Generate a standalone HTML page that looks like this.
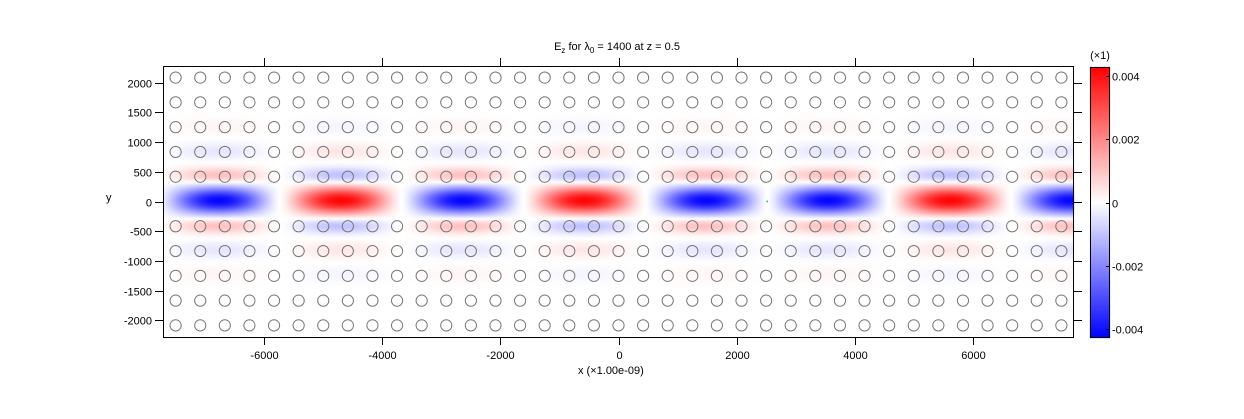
<!DOCTYPE html>
<html><head><meta charset="utf-8"><style>
body{margin:0;background:#fff;width:1244px;height:419px;overflow:hidden;position:relative;font-family:"Liberation Sans",sans-serif}
canvas{position:absolute;left:0;top:0}
svg{position:absolute;left:0;top:0}
text{font-family:"Liberation Sans",sans-serif;font-size:11px;fill:#000}
</style></head><body>
<canvas id="field" width="1244" height="419"></canvas>
<svg id="chart" width="1244" height="419"></svg>
<script>
// data
const xTicks=[-6000,-4000,-2000,0,2000,4000,6000];
const yTicks=[-2000,-1500,-1000,-500,0,500,1000,1500,2000];
const cbTicks=[-0.004,-0.002,0,0.002,0.004];
const cbLabels=["-0.004","-0.002","0","0.002","0.004"];
const holeCols=[-18,-17,-16,-15,-14,-13,-12,-11,-10,-9,-8,-7,-6,-5,-4,-3,-2,-1,0,1,2,3,4,5,6,7,8,9,10,11,12,13,14,15,16,17,18];
const holeRows=[-5,-4,-3,-2,-1,1,2,3,4,5];
const latticeA=417;
const sourceX=2520;
const halfPeriod=2065;
const fieldMax=0.0043;
const yLobes=[1,-0.28,0.1,-0.04];
const xDom=[-7720,7720], yDom=[-2280,2280];
const L=163,R=1074,T=66,B=337;
const sx=v=>L+(v-xDom[0])/(xDom[1]-xDom[0])*(R-L);
const sy=v=>B-(v-yDom[0])/(yDom[1]-yDom[0])*(B-T);
const cbT=67,cbB=338,cbL=1090,cbR=1110;
const cy=v=>cbB-(v+fieldMax)/(2*fieldMax)*(cbB-cbT);
function cmap(t){
  t=Math.max(-1,Math.min(1,t));
  if(t>=0){const w=Math.round(255*(1-t));return [255,w,w];}
  const w=Math.round(255*(1+t));return [w,w,255];
}
const cv=document.getElementById('field'),ctx=cv.getContext('2d');
const img=ctx.createImageData(R-L,B-T);
const pxPerUnit=(R-L)/(xDom[1]-xDom[0]);
for(let j=0;j<B-T;j++){
  const yu=yDom[1]-(j+0.5)/pxPerUnit;
  const ay=Math.abs(yu);
  let prof=yLobes[0]*Math.exp(-Math.pow(yu/230,2));
  for(let k=1;k<yLobes.length;k++)prof+=yLobes[k]*Math.exp(-Math.pow((ay-k*latticeA)/140,2));
  for(let i=0;i<R-L;i++){
    const xu=xDom[0]+(i+0.5)/pxPerUnit;
    const ph=Math.PI*Math.abs(xu-sourceX)/halfPeriod;
    let s=Math.sin(ph); s=Math.sign(s)*Math.pow(Math.abs(s),1.3);
    let v=-s*prof*0.98;
    const c=cmap(v),o=(j*(R-L)+i)*4;
    img.data[o]=c[0];img.data[o+1]=c[1];img.data[o+2]=c[2];img.data[o+3]=255;
  }
}
ctx.putImageData(img,L,T);
for(let y=cbT;y<cbB;y++){
  const v=fieldMax-(y-cbT+0.5)/(cbB-cbT)*2*fieldMax;
  const c=cmap(v/fieldMax);ctx.fillStyle=`rgb(${c[0]},${c[1]},${c[2]})`;ctx.fillRect(cbL,y,cbR-cbL,1);
}
const svg=document.getElementById('chart'),NS='http://www.w3.org/2000/svg';
function mk(tag,attrs,txt){const e=document.createElementNS(NS,tag);for(const k in attrs)e.setAttribute(k,attrs[k]);if(txt!==undefined)e.textContent=txt;svg.appendChild(e);return e;}
holeRows.forEach(r=>holeCols.forEach(c=>{
  const e=mk('circle',{cx:sx(c*latticeA),cy:sy(r*latticeA),r:5.6,fill:'none',stroke:'#777','stroke-width':1});
  
  
}));
let e=mk('circle',{cx:sx(sourceX),cy:sy(0),r:1,fill:'#3c3'});


e=mk('rect',{x:L+0.5,y:T+0.5,width:R-L-1,height:B-T,fill:'none',stroke:'#000'});


xTicks.forEach(v=>{
  const x=Math.round(sx(v))+0.5;
  mk('line',{x1:x,x2:x,y1:B,y2:B+8,stroke:'#000'});
  mk('line',{x1:x,x2:x,y1:T-8,y2:T,stroke:'#000'});
  e=mk('text',{x:x,y:B+22,'text-anchor':'middle'},String(v));
  
  
});
yTicks.forEach(v=>{
  const y=Math.round(sy(v))+0.5;
  mk('line',{x1:L-8,x2:L,y1:y,y2:y,stroke:'#000'});
  mk('line',{x1:R,x2:R+8,y1:y,y2:y,stroke:'#000'});
  e=mk('text',{x:L-11,y:y+4,'text-anchor':'end'},String(v));
  
  
});
e=mk('rect',{x:cbL+0.5,y:cbT+0.5,width:cbR-cbL-1,height:cbB-cbT-1,fill:'none',stroke:'#000'});


cbTicks.forEach((v,i)=>{
  const y=Math.round(cy(v))+0.5;
  mk('line',{x1:cbR-4,x2:cbR,y1:y,y2:y,stroke:'#000'});
  e=mk('text',{x:cbR+2,y:y+4},cbLabels[i]);
  
  
});
e=mk('text',{x:1100,y:59,'text-anchor':'middle'},'(×1)');


e=mk('text',{x:578,y:374},'x  (×1.00e-09)');


e=mk('text',{x:106,y:201},'y');


e=document.createElementNS(NS,'text');
e.setAttribute('x',617);e.setAttribute('y',50);e.setAttribute('text-anchor','middle');
e.innerHTML='E<tspan dy="3" font-size="8">z</tspan><tspan dy="-3"> for λ</tspan><tspan dy="3" font-size="8">0</tspan><tspan dy="-3"> = 1400  at z = 0.5</tspan>';


svg.appendChild(e);
</script>
</body></html>
